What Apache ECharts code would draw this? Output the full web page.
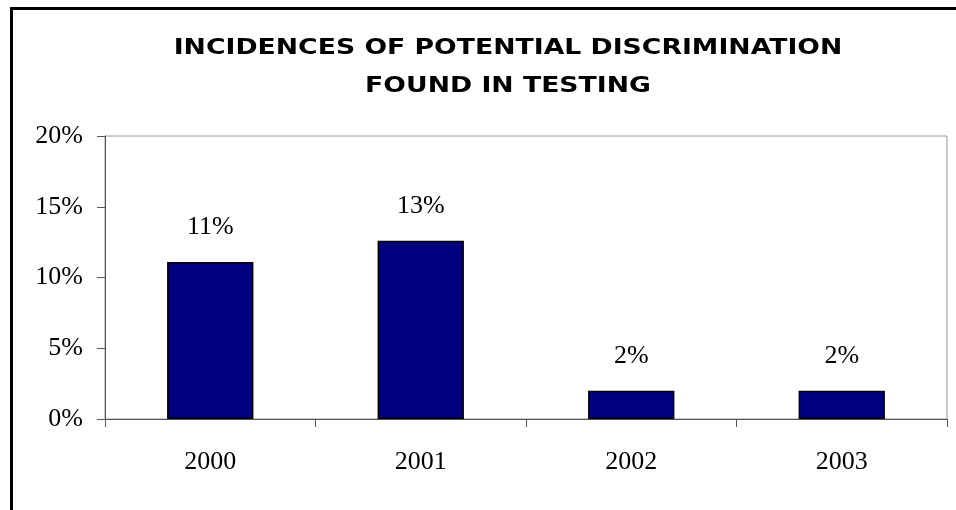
<!DOCTYPE html>
<html>
<head>
<meta charset="utf-8">
<script src="https://cdn.jsdelivr.net/npm/echarts@6/dist/echarts.min.js"></script>
<style>
  html, body { margin: 0; padding: 0; background: #fff; }
  #chart { width: 956px; height: 510px; }
</style>
</head>
<body>
<div id="chart"></div>
<script>
// Years tested and the share of tests showing potential discrimination
const years = ['2000', '2001', '2002', '2003'];
const incidence = [0.111, 0.126, 0.020, 0.020];
const yTicks = { min: 0, max: 0.20, step: 0.05 };
const titleLines = ['INCIDENCES OF POTENTIAL DISCRIMINATION', 'FOUND IN TESTING'];

const pct = v => Math.round(v * 100) + '%';
const serif = '"Liberation Serif", "Times New Roman", serif';

const chart = echarts.init(document.getElementById('chart'), null, { renderer: 'canvas' });

chart.setOption({
  backgroundColor: '#ffffff',
  animation: false,
  graphic: [
    {
      type: 'rect',
      shape: { x: 11.5, y: 8.5, width: 2000, height: 2000 },
      style: { fill: 'none', stroke: '#000', lineWidth: 3 },
      silent: true
    },
    {
      type: 'text', x: 508, y: 49, scaleX: 1.27,
      style: {
        text: titleLines[0], x: 0, y: 0,
        font: 'bold 21px "DejaVu Sans", sans-serif',
        fill: '#000', textAlign: 'center', textVerticalAlign: 'middle',
        align: 'center', verticalAlign: 'middle'
      }
    },
    {
      type: 'text', x: 508, y: 87, scaleX: 1.27,
      style: {
        text: titleLines[1], x: 0, y: 0,
        font: 'bold 21px "DejaVu Sans", sans-serif',
        fill: '#000', textAlign: 'center', textVerticalAlign: 'middle',
        align: 'center', verticalAlign: 'middle'
      }
    }
  ],
  grid: {
    left: 105, top: 136, right: 9, bottom: 91,
    show: true, borderColor: '#9a9a9a', borderWidth: 1,
    containLabel: false
  },
  xAxis: {
    type: 'category',
    data: years,
    boundaryGap: true,
    axisLine: { show: true, lineStyle: { color: '#555', width: 1 } },
    axisTick: { show: true, alignWithLabel: false, length: 8, lineStyle: { color: '#555' } },
    axisLabel: { margin: 30, color: '#000', fontFamily: serif, fontSize: 26, fontWeight: 'normal' },
    splitLine: { show: false }
  },
  yAxis: {
    type: 'value',
    min: yTicks.min, max: yTicks.max, interval: yTicks.step,
    axisLine: { show: true, lineStyle: { color: '#555', width: 1 } },
    axisTick: { show: true, length: 8, lineStyle: { color: '#555' } },
    axisLabel: { margin: 22, color: '#000', fontFamily: serif, fontSize: 26, fontWeight: 'normal', formatter: pct },
    splitLine: { show: false }
  },
  series: [{
    type: 'bar',
    data: incidence,
    barCategoryGap: '59%',
    itemStyle: { color: '#000080', borderColor: '#000', borderWidth: 1.5 },
    label: {
      show: true, position: 'top', distance: 22,
      color: '#000', fontFamily: serif, fontSize: 26, fontWeight: 'normal',
      formatter: p => pct(p.value)
    }
  }]
});
</script>
</body>
</html>
